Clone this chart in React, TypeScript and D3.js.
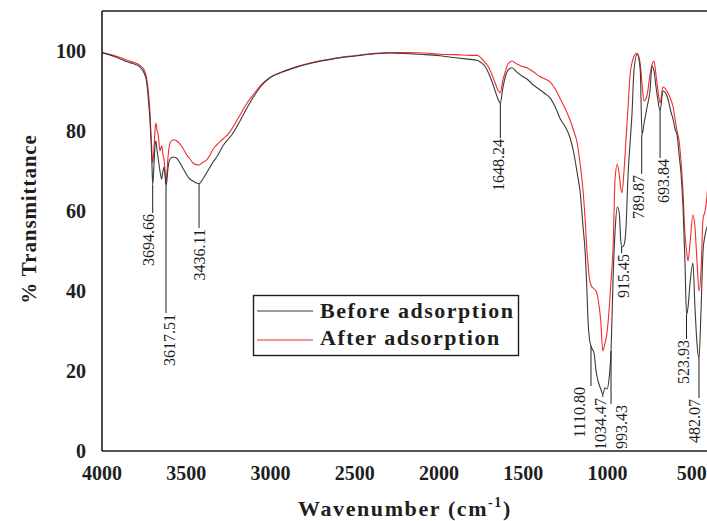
import React, { useEffect } from "react";
import * as d3 from "d3";

// Wavenumber grid (cm^-1) shared by both spectra
const wavenumbers = [
  4000, 3900, 3850, 3800, 3775, 3750, 3735, 3725, 3715, 3709,
  3704, 3699, 3691, 3684, 3680, 3673, 3666, 3656, 3646, 3638,
  3632, 3626, 3620, 3614, 3610, 3596, 3579, 3560, 3537, 3517,
  3497, 3478, 3460, 3440, 3424, 3401, 3380, 3359, 3340, 3319,
  3282, 3250, 3230, 3181, 3139, 3104, 3050, 3003, 2926, 2850,
  2783, 2700, 2629, 2550, 2469, 2380, 2291, 2172, 2080, 1994,
  1900, 1816, 1774, 1750, 1727, 1706, 1687, 1665, 1650, 1636,
  1622, 1608, 1590, 1567, 1540, 1510, 1478, 1440, 1401, 1370,
  1341, 1310, 1280, 1250, 1220, 1200, 1180, 1163, 1145, 1133,
  1122, 1116, 1107, 1098, 1080, 1068, 1056, 1040, 1028, 1015,
  1003, 991, 979, 967, 955, 942, 930, 922, 914, 902,
  890, 878, 866, 855, 843, 825, 806, 795, 783, 765,
  748, 736, 724, 712, 700, 688, 671, 655, 641, 625,
  611, 599, 587, 575, 563, 552, 540, 531, 522, 510,
  493, 481, 469, 457, 445, 433, 421, 409, 400,
];

// % Transmittance before adsorption
const beforeAdsorption = [
  99.6, 98.2, 97.3, 96.6, 96.0, 94.5, 92.3, 88.0, 82.5, 77.5,
  72.0, 66.5, 72.0, 77.0, 77.5, 75.0, 73.0, 70.0, 68.0, 70.0,
  71.0, 69.0, 66.2, 68.0, 70.0, 73.0, 73.5, 73.3, 72.0, 70.5,
  69.0, 68.0, 67.5, 67.0, 66.8, 68.0, 69.5, 71.0, 72.3, 73.5,
  76.3, 78.0, 79.0, 82.5, 85.8, 88.3, 91.5, 93.3, 94.8, 95.9,
  96.7, 97.5, 98.0, 98.5, 98.9, 99.3, 99.5, 99.3, 99.1, 98.8,
  98.3, 97.9, 97.7, 97.1, 96.2, 94.5, 92.5, 89.8, 88.0, 87.0,
  90.5, 93.3, 95.2, 95.8, 94.8, 93.8, 93.0, 91.5, 90.3, 89.3,
  88.3, 86.0, 83.0, 81.0, 78.0, 74.5, 69.5, 65.0, 56.0, 50.0,
  40.0, 33.0, 28.0, 26.2, 24.5, 20.0, 17.5, 15.5, 14.2, 15.8,
  15.5, 18.0, 25.0, 43.0, 55.0, 61.0, 59.5, 53.0, 51.0, 51.5,
  56.0, 69.0, 77.0, 84.0, 95.0, 99.2, 95.5, 79.0, 82.0, 86.0,
  90.0, 96.2, 95.0, 91.0, 87.5, 85.0, 90.0, 89.5, 88.0, 85.0,
  83.0, 80.5, 79.0, 74.0, 69.0, 61.0, 47.0, 34.0, 36.0, 42.0,
  47.0, 36.0, 27.0, 23.0, 35.0, 50.0, 54.0, 56.0, 57.0,
];

// % Transmittance after adsorption
const afterAdsorption = [
  99.6, 98.5, 97.7, 97.0, 96.4, 95.3, 93.2, 90.0, 84.5, 79.0,
  75.0, 72.0, 76.0, 81.0, 82.0, 80.0, 79.0, 75.0, 76.3, 74.0,
  73.0, 70.0, 67.0, 70.0, 72.5, 77.0, 77.8, 77.6, 76.7, 75.5,
  74.0, 73.0, 72.0, 71.6, 71.5, 72.2, 72.7, 74.0, 75.5, 76.5,
  78.0, 79.3, 80.5, 84.0, 87.0, 89.0, 91.8, 93.4, 94.9, 96.0,
  96.8, 97.6, 98.1, 98.6, 99.0, 99.4, 99.6, 99.6, 99.5, 99.2,
  99.1, 98.9, 98.9, 98.3, 97.1, 96.0, 94.2, 91.8, 90.2, 89.6,
  92.5, 94.6, 96.8, 97.5, 96.8, 96.2, 95.8, 94.8, 93.6, 93.0,
  92.3, 90.5, 88.0, 85.5, 82.5, 80.0, 77.0, 72.0, 65.0, 58.0,
  50.0, 47.0, 43.0, 41.5, 40.5, 40.0, 38.0, 32.5, 25.0, 27.0,
  29.5, 35.0, 42.5, 50.8, 68.0, 71.7, 69.0, 66.0, 64.5, 70.0,
  78.0, 86.0, 94.0, 97.0, 98.7, 99.5, 97.0, 91.7, 87.5, 89.0,
  94.0, 96.5, 97.5, 94.0, 90.0, 87.0, 91.0, 90.5, 89.5, 88.0,
  86.0, 83.0, 80.0, 77.5, 72.0, 65.0, 54.0, 50.0, 47.5, 52.0,
  59.0, 56.0, 47.5, 40.0, 45.0, 58.0, 60.0, 64.0, 70.0,
];

// Peak annotations
const peakLabels = ["3694.66", "3617.51", "3436.11", "1648.24", "1110.80", "1034.47", "993.43", "915.45", "789.87", "693.84", "523.93", "482.07"];
const peakWavenumbers = [3699, 3620, 3424, 1636, 1098, 1028, 979, 916, 797, 688, 531, 457];
const peakLineFrom = [66.5, 66.2, 66.8, 87.0, 26.2, 14.2, 25.0, 51.0, 79.0, 85.0, 34.0, 23.0];
const peakLineTo = [59.5, 34.5, 55.75, 78.25, 16.25, 13.5, 11.75, 49.5, 69.25, 73.25, 28.0, 13.25];
const labelNudge = [-4, 3, 0, -2, -12, -2, 10, 2, -3, 3, -3, -5];

const xTicks = [4000, 3500, 3000, 2500, 2000, 1500, 1000, 500];
const yTicks = [0, 20, 40, 60, 80, 100];
const seriesNames = ["Before adsorption", "After adsorption"];
const seriesColors = ["#3a3a3a", "#f42a2a"];

const W = 707;
const H = 521;
const PL = 102;
const PR = 708.6;
const PT = 11;
const PB = 451;

export default function App() {
  useEffect(() => {
    document.body.style.margin = "0";
  }, []);

  const x = d3.scaleLinear().domain([4000, 400]).range([PL, PR]);
  const y = d3.scaleLinear().domain([0, 110]).range([PB, PT]);

  const line = d3
    .line<number>()
    .x((_, i) => x(wavenumbers[i]))
    .y((d) => y(d))
    .curve(d3.curveMonotoneX);

  const series = [beforeAdsorption, afterAdsorption];
  const serif = "'Liberation Serif', 'Times New Roman', serif";
  const ink = "#1e1e1e";

  return (
    <svg
      width={W}
      height={H}
      viewBox={`0 0 ${W} ${H}`}
      style={{ position: "absolute", left: 0, top: 0, background: "#fff" }}
    >
      <defs>
        <clipPath id="plot">
          <rect x={PL} y={PT} width={PR - PL} height={PB - PT} />
        </clipPath>
      </defs>
      <rect x={0} y={0} width={W} height={H} fill="#fff" />

      {/* spectra: after (red) first, before (black) on top */}
      <g clipPath="url(#plot)">
        {[1, 0].map((si) => (
          <path
            key={si}
            d={line(series[si]) || ""}
            fill="none"
            stroke={seriesColors[si]}
            strokeWidth={1.1}
            strokeLinejoin="round"
          />
        ))}
      </g>

      {/* frame */}
      <line x1={PL} x2={PL} y1={PT} y2={PB} stroke={ink} strokeWidth={1.6} />
      <line x1={PL} x2={W} y1={PT} y2={PT} stroke={ink} strokeWidth={1.6} />
      <line x1={PL} x2={W} y1={PB} y2={PB} stroke={ink} strokeWidth={1.6} />

      {/* peak annotations */}
      {peakLabels.map((lab, i) => {
        const px = x(peakWavenumbers[i]);
        const y0 = y(peakLineFrom[i]);
        const y1 = y(peakLineTo[i]);
        return (
          <g key={lab}>
            <line x1={px} x2={px} y1={y0} y2={y1} stroke={ink} strokeWidth={1} />
            <text
              transform={`translate(${px + labelNudge[i]},${y1 + 1}) rotate(-90)`}
              textAnchor="end"
              dy="0.35em"
              fontFamily={serif}
              fontSize={16}
              fill={ink}
            >
              {lab}
            </text>
          </g>
        );
      })}

      {/* y ticks */}
      {yTicks.map((t) => (
        <text
          key={t}
          x={86}
          y={y(t) + 6.5}
          textAnchor="end"
          fontFamily={serif}
          fontWeight="bold"
          fontSize={20}
          fill={ink}
        >
          {t}
        </text>
      ))}

      {/* x ticks */}
      {xTicks.map((t) => (
        <text
          key={t}
          x={x(t)}
          y={480}
          textAnchor="middle"
          fontFamily={serif}
          fontWeight="bold"
          fontSize={20}
          fill={ink}
        >
          {t}
        </text>
      ))}

      {/* axis titles */}
      <text
        transform={`translate(36,219) rotate(-90)`}
        textAnchor="middle"
        fontFamily={serif}
        fontWeight="bold"
        fontSize={21}
        letterSpacing={0.9}
        fill={ink}
      >
        % Transmittance
      </text>
      <text
        x={405}
        y={516}
        textAnchor="middle"
        fontFamily={serif}
        fontWeight="bold"
        fontSize={22}
        letterSpacing={1.6}
        fill={ink}
      >
        Wavenumber (cm
        <tspan fontSize={14} dy={-9}>-1</tspan>
        <tspan dy={9}>)</tspan>
      </text>

      {/* legend */}
      <rect x={253.5} y={295.5} width={265} height={60} fill="#fff" stroke={ink} strokeWidth={1.4} />
      {seriesNames.map((name, i) => (
        <g key={name}>
          <line
            x1={257}
            x2={313}
            y1={311 + i * 29}
            y2={311 + i * 29}
            stroke={seriesColors[i]}
            strokeWidth={1.2}
          />
          <text
            x={320}
            y={318 + i * 27}
            fontFamily={serif}
            fontWeight="bold"
            fontSize={22}
            letterSpacing={1.5}
            fill={ink}
          >
            {name}
          </text>
        </g>
      ))}
    </svg>
  );
}
